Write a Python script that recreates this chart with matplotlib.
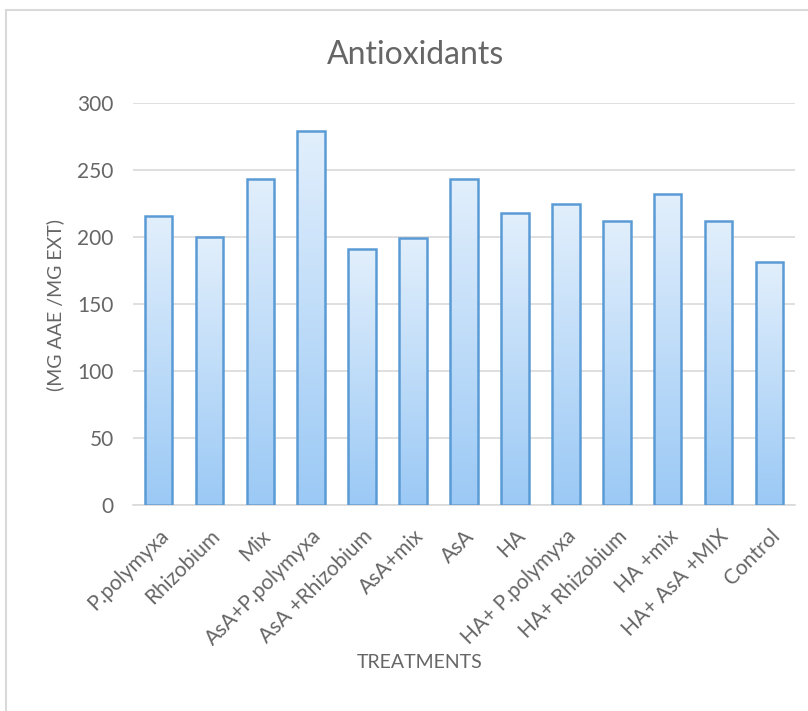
import numpy as np
import matplotlib.pyplot as plt
from matplotlib.colors import LinearSegmentedColormap
from matplotlib.patches import Rectangle

# Treatments and measured antioxidant activity
treatments = ['P.polymyxa', 'Rhizobium', 'Mix', 'AsA+P.polymyxa', 'AsA +Rhizobium',
              'AsA+mix', 'AsA', 'HA', 'HA+ P.polymyxa', 'HA+ Rhizobium',
              'HA +mix', 'HA+ AsA +MIX', 'Control']
values = [216, 200, 243, 279, 191, 199, 243, 218, 225, 212, 232, 212, 181]
yticks = [0, 50, 100, 150, 200, 250, 300]

plt.rcParams['font.family'] = ['Lato', 'DejaVu Sans']
text_col = '#666666'

fig = plt.figure(figsize=(8.08, 7.11), dpi=100)
ax = fig.add_axes([133 / 808, (711 - 505) / 711, (795 - 133) / 808, 402 / 711])

# Light grey frame around the chart area
fig.patches.append(Rectangle((6 / 808, -0.1), 1.2, (711 - 10) / 711 + 0.1,
                             transform=fig.transFigure, fill=False,
                             edgecolor='#d9d9d9', linewidth=1.5))

x = np.arange(len(treatments))
width = 0.54
bars = ax.bar(x, values, width=width, facecolor='none', edgecolor='#5b9bd5',
              linewidth=1.8, zorder=3)

# Vertical gradient fill inside each bar: pale at top, deeper blue at bottom
cmap = LinearSegmentedColormap.from_list('bar', ['#9bc9f5', '#e2effc'])
grad = np.linspace(0, 1, 256).reshape(-1, 1)
for b in bars:
    x0, h = b.get_x(), b.get_height()
    im = ax.imshow(grad, extent=[x0, x0 + b.get_width(), 0, h], origin='lower',
                   aspect='auto', cmap=cmap, zorder=2, interpolation='bicubic')
    im.set_clip_path(b)

ax.set_xlim(-0.5, len(treatments) - 0.5)
ax.set_ylim(0, 300)
ax.set_yticks(yticks)
ax.set_xticks(x)
ax.set_xticklabels(treatments, rotation=45, ha='right', va='top',
                   rotation_mode='anchor', fontsize=15, color=text_col)
ax.tick_params(axis='y', labelsize=15, labelcolor=text_col, length=0, pad=14)
ax.tick_params(axis='x', length=0, pad=15)
ax.grid(axis='y', color='#d9d9d9', linewidth=1.2, zorder=0)
ax.set_axisbelow(True)
for s in ['top', 'right', 'left']:
    ax.spines[s].set_visible(False)
ax.spines['bottom'].set_color('#d9d9d9')
ax.spines['bottom'].set_linewidth(1.2)

fig.text(416 / 808, 1 - 55 / 711, 'Antioxidants', ha='center', va='center',
         fontsize=23, color=text_col)
fig.text(55 / 808, 1 - 305 / 711, '(MG AAE /MG EXT)', ha='center', va='center',
         rotation=90, fontsize=14, color=text_col)
fig.text(420 / 808, 1 - 663 / 711, 'TREATMENTS', ha='center', va='center',
         fontsize=14, color=text_col)

plt.savefig('out.png', dpi=100)
